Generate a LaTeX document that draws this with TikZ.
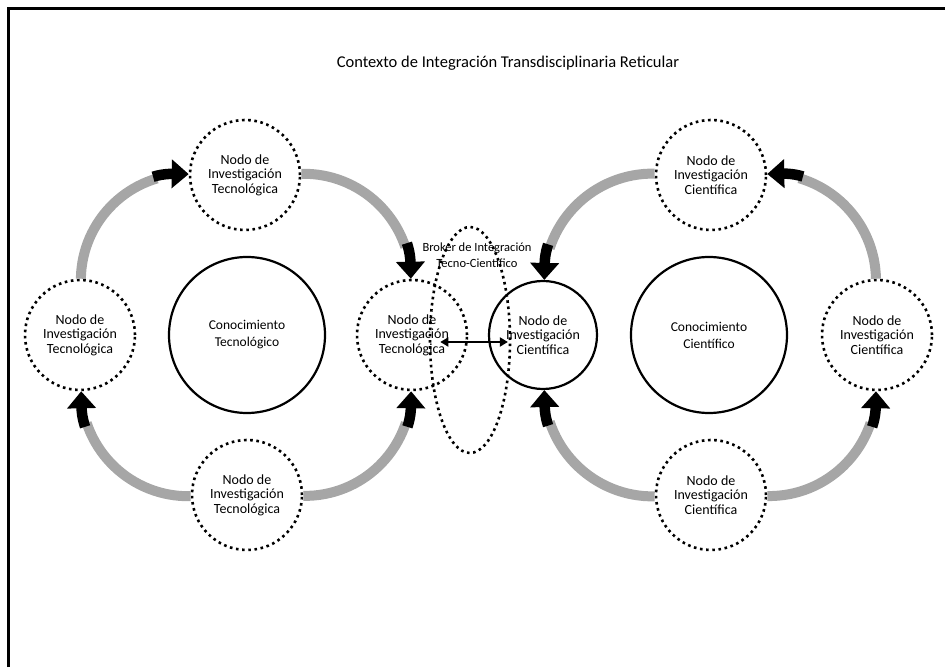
\documentclass[tikz,border=0pt]{standalone}
\usepackage{fontspec}
\setmainfont{Carlito}
\usetikzlibrary{arrows.meta,shapes.geometric}
\definecolor{arcgray}{HTML}{A6A6A6}
\begin{document}
\begin{tikzpicture}[x=1pt,y=1pt,
  nodefont/.style={font=\fontsize{14}{14.5}\selectfont},
  dotnode/.style={circle, draw, fill=white, line width=2.6pt, dash pattern=on 2.6pt off 3.6pt,
    minimum size=110pt, inner sep=0pt, align=center, nodefont},
  solidnode/.style={circle, draw, fill=white, line width=2.2pt,
    minimum size=108pt, inner sep=0pt, align=center, nodefont},
  knownode/.style={circle, draw, line width=2.2pt, minimum size=156pt, inner sep=0pt,
    align=center, font=\fontsize{13.5}{17}\selectfont},
  flowblack/.style={draw=black, line width=10.5pt, dash pattern=on 20pt off 2000pt,
    {Triangle[width=28pt,length=17pt]}-},
  flowgray/.style={draw=arcgray, line width=10pt, dash pattern=on 0pt off 32pt on 2000pt},
  brokerell/.style={ellipse, draw, line width=2.6pt, dash pattern=on 2.6pt off 3.6pt,
    minimum width=80pt, minimum height=226pt, inner sep=0pt},
  bothtips/.style={line width=1.8pt, {Triangle[width=9pt,length=8pt]}-{Triangle[width=9pt,length=8pt]}},
  frameline/.style={line width=3pt},
]
\useasboundingbox (0,0) rectangle (945,667);
% #1 = target, #2 = source, #3 = bend seen from the target
\newcommand\flowarr[3]{%
  \draw[flowgray] (#1) to[#3] (#2);
  \draw[flowblack] (#1) to[#3] (#2);}

% frame
\draw[frameline] (8,0) -- (8,658) -- (945,658);

% title
\node[font=\fontsize{16.5}{20}\selectfont] (title) at (508,604) {Contexto de Integración Transdisciplinaria Reticular};

% left group
\node[knownode] (LK) at (247,332) {Conocimiento\\Tecnológico};
\node[dotnode] (TT) at (245,492) {Nodo de\\Investigación\\Tecnológica};
\node[dotnode] (TL) at (80,332) {Nodo de\\Investigación\\Tecnológica};
\node[dotnode] (TR) at (412,332) {Nodo de\\Investigación\\Tecnológica};
\node[dotnode] (TB) at (247,172) {Nodo de\\Investigación\\Tecnológica};

% right group
\node[knownode] (RK) at (709,332) {Conocimiento\\Científico};
\node[solidnode] (SC) at (543,332) {Nodo de\\Investigación\\Científica};
\node[dotnode] (ST) at (711,492) {Nodo de\\Investigación\\Científica};
\node[dotnode] (SR) at (877,332) {Nodo de\\Investigación\\Científica};
\node[dotnode] (SB) at (711,172) {Nodo de\\Investigación\\Científica};

% flows left (drawn from target back to source)
\flowarr{TT}{TL}{bend right=45}
\flowarr{TR}{TT}{bend right=45}
\flowarr{TL}{TB}{bend right=45}
\flowarr{TR}{TB}{bend left=45}

% flows right
\flowarr{SC}{ST}{bend left=45}
\flowarr{SC}{SB}{bend right=45}
\flowarr{ST}{SR}{bend left=45}
\flowarr{SR}{SB}{bend left=45}

% broker
\node[brokerell] (BE) at (470,327) {};
\draw[bothtips, shorten <=-28pt, shorten >=-20pt] ([yshift=-7pt]TR.east) -- ([yshift=-7pt]SC.west);
\node[font=\fontsize{12.5}{16}\selectfont, align=center] (BK) at (477,412) {Broker de Integración\\Tecno-Científico};
\end{tikzpicture}
\end{document}
